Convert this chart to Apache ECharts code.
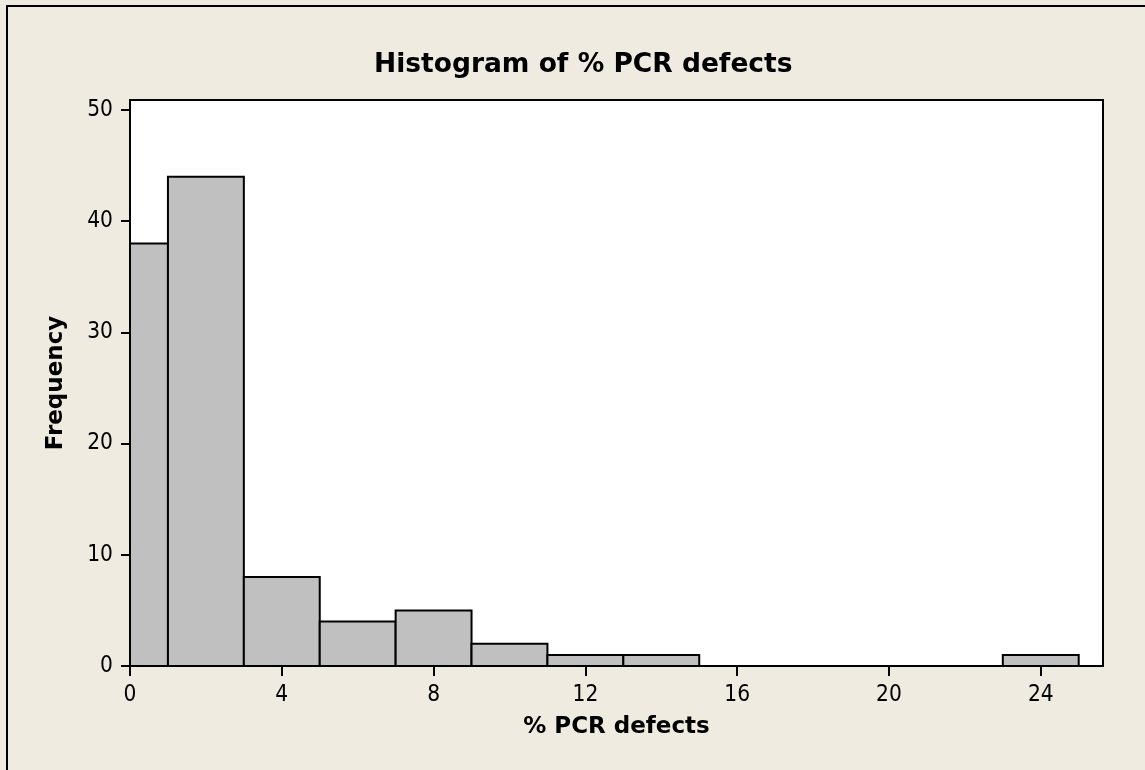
<!DOCTYPE html>
<html>
<head>
<meta charset="utf-8">
<script src="https://cdn.jsdelivr.net/npm/echarts@6/dist/echarts.min.js"></script>
<style>
html,body{margin:0;padding:0;background:#efebe0;}
#chart{width:1145px;height:770px;}
</style>
</head>
<body>
<div id="chart"></div>
<script>
// Histogram data (bin edges are width 2, centered on odd values)
var binStarts = [-1, 1, 3, 5, 7, 9, 11, 13, 15, 17, 19, 21, 23];
var binWidth = 2;
var counts = [38, 44, 8, 4, 5, 2, 1, 1, 0, 0, 0, 0, 1];
var xTicks = [0, 4, 8, 12, 16, 20, 24];
var yTicks = [0, 10, 20, 30, 40, 50];
var titleText = 'Histogram of % PCR defects';
var xName = '% PCR defects';
var yName = 'Frequency';

var FONT_C = '"DejaVu Sans Condensed", "DejaVu Sans", sans-serif';
var FONT_B = '"DejaVu Sans", sans-serif';

var data = [];
for (var i = 0; i < binStarts.length; i++) {
  if (counts[i] > 0) data.push([binStarts[i], binStarts[i] + binWidth, counts[i]]);
}

var chart = echarts.init(document.getElementById('chart'), null, {renderer: 'canvas'});
chart.setOption({
  backgroundColor: '#efebe0',
  animation: false,
  graphic: [{
    type: 'rect', z: -10, silent: true,
    shape: {x: 7, y: 6, width: 1160, height: 800},
    style: {fill: 'none', stroke: '#000', lineWidth: 2}
  }],
  title: {
    text: titleText, left: 369, top: 47,
    textStyle: {fontFamily: FONT_B, fontWeight: 'bold', fontSize: 26.5, color: '#000'}
  },
  grid: {
    left: 130, top: 100, right: 42, bottom: 104,
    show: true, backgroundColor: '#fff', borderColor: '#000', borderWidth: 2
  },
  xAxis: {
    type: 'value', min: 0, max: 25.64,
    name: xName, nameLocation: 'middle', nameGap: 50,
    nameTextStyle: {fontFamily: FONT_B, fontWeight: 'bold', fontSize: 23, color: '#000'},
    splitLine: {show: false},
    axisLine: {show: true, lineStyle: {color: '#000', width: 2}},
    axisTick: {show: true, length: 10, lineStyle: {color: '#000', width: 2}, customValues: xTicks},
    axisLabel: {fontFamily: FONT_C, fontSize: 22.5, color: '#000', margin: 18, customValues: xTicks}
  },
  yAxis: {
    type: 'value', min: 0, max: 50.9,
    name: yName, nameLocation: 'middle', nameGap: 62, nameRotate: 90,
    nameTextStyle: {fontFamily: FONT_B, fontWeight: 'bold', fontSize: 23, color: '#000'},
    splitLine: {show: false},
    axisLine: {show: true, lineStyle: {color: '#000', width: 2}},
    axisTick: {show: true, length: 9, lineStyle: {color: '#000', width: 2}, customValues: yTicks},
    axisLabel: {fontFamily: FONT_C, fontSize: 22.5, color: '#000', margin: 17, customValues: yTicks}
  },
  series: [{
    type: 'custom',
    clip: true,
    data: data,
    renderItem: function (params, api) {
      var p0 = api.coord([api.value(0), api.value(2)]);
      var p1 = api.coord([api.value(1), 0]);
      var rect = echarts.graphic.clipRectByRect({
        x: p0[0], y: p0[1], width: p1[0] - p0[0], height: p1[1] - p0[1]
      }, {
        x: params.coordSys.x, y: params.coordSys.y,
        width: params.coordSys.width, height: params.coordSys.height
      });
      if (!rect) return null;
      return {
        type: 'rect', shape: rect,
        style: {fill: '#c0c0c0', stroke: '#000', lineWidth: 2}
      };
    }
  }]
});
</script>
</body>
</html>
